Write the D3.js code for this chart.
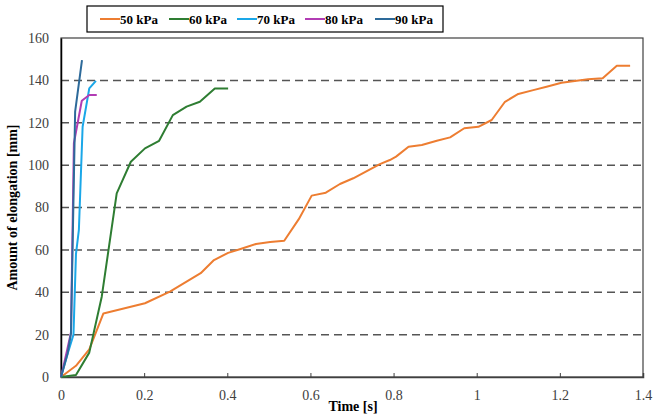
<!DOCTYPE html>
<html>
<head>
<meta charset="utf-8">
<script src="https://cdn.jsdelivr.net/npm/d3@7"></script>
<style>
  body { margin: 0; background: #fff; }
  text { font-family: "Liberation Serif", "Times New Roman", serif; }
</style>
</head>
<body>
<div id="vis"></div>
<script>
// DATA
const seriesNames = ["50 kPa", "60 kPa", "70 kPa", "80 kPa", "90 kPa"];
const seriesColors = ["#ED7D31", "#2E7D32", "#1AA7E8", "#B23CB4", "#2D6A9A"];

const t50 = [0, 0.036, 0.068, 0.102, 0.202, 0.262, 0.336, 0.368, 0.402, 0.43, 0.469, 0.503, 0.537, 0.572, 0.603, 0.637, 0.671, 0.703, 0.767, 0.791, 0.806, 0.836, 0.868, 0.904, 0.936, 0.970, 1.004, 1.036, 1.068, 1.100, 1.136, 1.168, 1.204, 1.236, 1.268, 1.303, 1.337, 1.369];
const v50 = [0, 5.3, 13, 30, 34.8, 40.3, 49, 55.2, 58.6, 60.3, 62.8, 63.7, 64.3, 74.5, 85.6, 87, 91.1, 93.8, 100.5, 102.4, 104, 108.7, 109.5, 111.5, 113.1, 117.4, 118.1, 121.3, 129.9, 133.6, 135.4, 137, 138.9, 139.7, 140.5, 141, 146.9, 146.9];

const t60 = [0, 0.036, 0.068, 0.098, 0.134, 0.168, 0.202, 0.236, 0.269, 0.302, 0.334, 0.37, 0.402];
const v60 = [0, 0.9, 11.5, 37.9, 86.7, 101.6, 107.9, 111.5, 123.6, 127.6, 129.9, 136.2, 136.2];

const t70 = [0, 0.016, 0.030, 0.036, 0.043, 0.052, 0.068, 0.084];
const v70 = [0, 11, 20, 58, 69.4, 118.1, 136.2, 139.8];

const t80 = [0, 0.014, 0.024, 0.031, 0.050, 0.068, 0.086];
const v80 = [0, 12, 21, 110.3, 130.4, 133.1, 133.1];

const t90 = [0, 0.016, 0.024, 0.034, 0.0505];
const v90 = [0, 11.2, 20.6, 125.2, 149.6];

const xTicks = [0, 0.2, 0.4, 0.6, 0.8, 1, 1.2, 1.4];
const yTicks = [0, 20, 40, 60, 80, 100, 120, 140, 160];

// HELPERS
const zip = (ts, vs) => ts.map((t, i) => ({t: t, v: vs[i]}));
const allSeries = [zip(t50, v50), zip(t60, v60), zip(t70, v70), zip(t80, v80), zip(t90, v90)];

const width = 654, height = 416;
const margin = {left: 61, right: 11, top: 38, bottom: 39};
const innerW = width - margin.left - margin.right;
const innerH = height - margin.top - margin.bottom;

const svg = d3.select("#vis").append("svg")
  .attr("width", width)
  .attr("height", height);

// SCALES
const x = d3.scaleLinear().domain([0, 1.4]).range([margin.left, margin.left + innerW]);
const y = d3.scaleLinear().domain([0, 160]).range([margin.top + innerH, margin.top]);

// GRID
svg.append("g").selectAll("line")
  .data(yTicks.filter(d => d > 0 && d < 160))
  .join("line")
  .attr("x1", x(0)).attr("x2", x(1.4))
  .attr("y1", d => y(d)).attr("y2", d => y(d))
  .attr("stroke", "#555")
  .attr("stroke-width", 1.5)
  .attr("stroke-dasharray", "8,5");

// FRAME
svg.append("rect")
  .attr("x", x(0)).attr("y", y(160))
  .attr("width", x(1.4) - x(0)).attr("height", y(0) - y(160))
  .attr("fill", "none")
  .attr("stroke", "#404040")
  .attr("stroke-width", 1.2);

// AXES
const xAxis = d3.axisBottom(x).tickValues(xTicks).tickSize(-4).tickPadding(13)
  .tickFormat(d => d3.format("~g")(d));
const gx = svg.append("g").attr("transform", `translate(0,${y(0)})`).call(xAxis);
gx.select(".domain").attr("stroke", "#404040").attr("stroke-width", 1.5);
gx.selectAll(".tick line").attr("stroke", "#404040");
gx.selectAll(".tick text").attr("font-size", 14).attr("fill", "#404040")
  .attr("font-family", "Liberation Serif, serif");

const yAxis = d3.axisLeft(y).tickValues(yTicks).tickSize(0).tickPadding(12);
const gy = svg.append("g").attr("transform", `translate(${x(0)},0)`).call(yAxis);
gy.select(".domain").attr("stroke", "#000").attr("stroke-width", 1.5);
gy.selectAll(".tick text").attr("font-size", 14).attr("fill", "#404040")
  .attr("font-family", "Liberation Serif, serif");

// LABELS
svg.append("text")
  .attr("x", 353).attr("y", 411)
  .attr("text-anchor", "middle")
  .attr("font-size", 14).attr("font-weight", "bold")
  .text("Time [s]");

svg.append("text")
  .attr("transform", `translate(17,${(y(0) + y(160)) / 2}) rotate(-90)`)
  .attr("text-anchor", "middle")
  .attr("font-size", 14).attr("font-weight", "bold")
  .text("Amount of elongation [mm]");

// LINES
const line = d3.line().x(d => x(d.t)).y(d => y(d.v));
svg.append("g").selectAll("path")
  .data(allSeries)
  .join("path")
  .attr("d", line)
  .attr("fill", "none")
  .attr("stroke", (d, i) => seriesColors[i])
  .attr("stroke-width", 2)
  .attr("stroke-linejoin", "round");

// LEGEND
const legend = svg.append("g");
legend.append("rect")
  .attr("x", 87).attr("y", 6).attr("width", 356).attr("height", 26)
  .attr("fill", "#fff").attr("stroke", "#000").attr("stroke-width", 1.2);
const legendX = [100, 169, 237, 305, 375];
const items = legend.selectAll("g.item")
  .data(seriesNames)
  .join("g")
  .attr("class", "item")
  .attr("transform", (d, i) => `translate(${legendX[i]},19)`);
items.append("line")
  .attr("x1", 0).attr("x2", 20)
  .attr("stroke", (d, i) => seriesColors[i])
  .attr("stroke-width", 2);
items.append("text")
  .attr("x", 20).attr("y", 4.5)
  .attr("font-size", 13).attr("font-weight", "bold")
  .text(d => d);
</script>
</body>
</html>
